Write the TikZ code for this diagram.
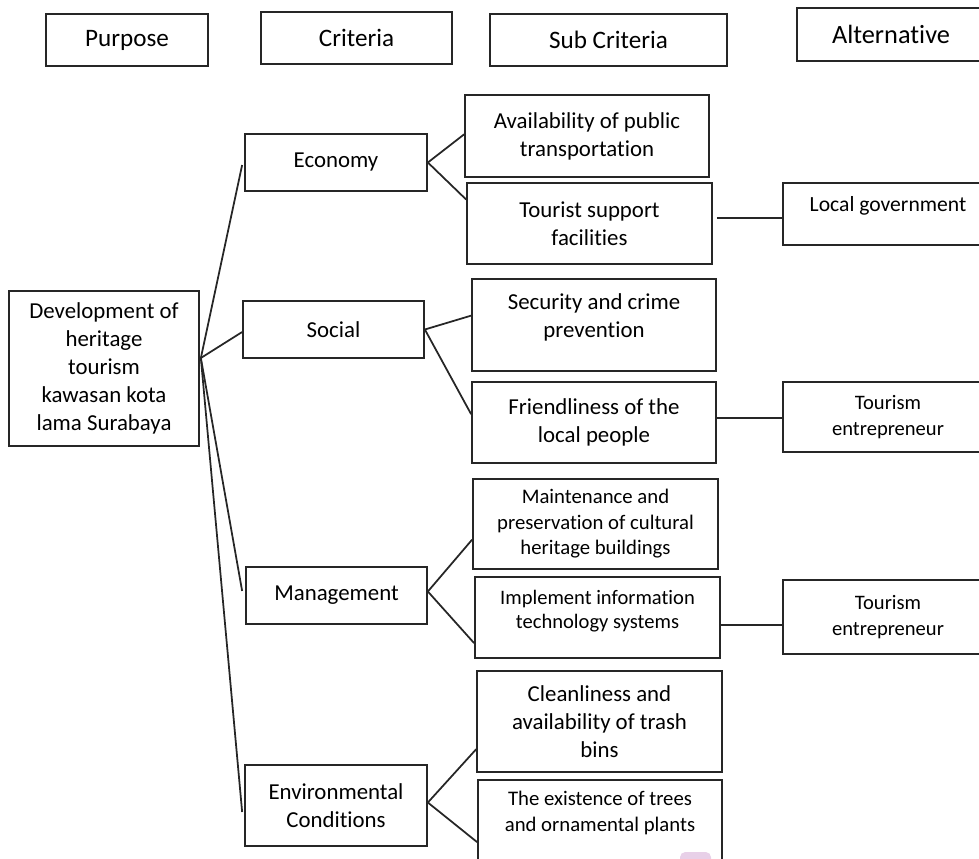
\documentclass[tikz,border=0pt]{standalone}
\usepackage{fontspec}
\setmainfont{Carlito}[Ligatures=NoCommon]
\usepackage{xcolor}
\usepackage{tikz}
\usetikzlibrary{calc}

\definecolor{smudge}{RGB}{232,208,232}

\begin{document}
\begin{tikzpicture}[
    x=0.02cm, y=-0.02cm,
    header/.style={rectangle, draw=black!85, line width=1pt, inner sep=0pt, text centered, font=\fontsize{14.3}{17}\selectfont},
    crit/.style={rectangle, draw=black!85, line width=1pt, inner sep=0pt, align=center, font=\fontsize{13}{15.9}\selectfont},
    subcrit/.style={crit, minimum width=4.9cm},
    small/.style={font=\fontsize{11.8}{14.5}\selectfont},
    alt/.style={crit, minimum width=4.2cm, font=\fontsize{11.7}{14.7}\selectfont},
    link/.style={draw=black!85, line width=1pt}
]
\useasboundingbox (0,0) rectangle (979,858);
\clip (0,0) rectangle (979,858);

% Header row
\node[header, minimum width=3.24cm, minimum height=1.04cm] (purpose) at (127,40) {Purpose};
\node[header, minimum width=3.82cm, minimum height=1.04cm] (criteria) at (356.5,38) {Criteria};
\node[header, minimum width=4.74cm, minimum height=1.04cm] (subcriteria) at (608.5,40) {Sub Criteria};
\node[header, minimum width=3.76cm, minimum height=1.06cm, font=\fontsize{15}{18}\selectfont] (alternative) at (891,34.5) {Alternative};

% Purpose
\node[crit, minimum width=3.8cm, minimum height=3.1cm] (dev) at (104,368.5) {Development of\\heritage\\tourism\\kawasan kota\\lama Surabaya};

% Criteria
\node[crit, minimum width=3.64cm, minimum height=1.14cm] (economy) at (336,162.5) {Economy};
\node[crit, minimum width=3.62cm, minimum height=1.14cm] (social) at (333.5,329.5) {Social};
\node[crit, minimum width=3.62cm, minimum height=1.14cm] (management) at (336.5,595.5) {Management};
\node[crit, minimum width=3.64cm, minimum height=1.62cm] (environment) at (336,805.5) {Environmental\\Conditions};

% Sub criteria
\node[subcrit, minimum width=4.88cm, minimum height=1.64cm] (transport) at (587,136) {Availability of public\\transportation};
\node[subcrit, minimum height=1.62cm] (facilities) at (589.5,223.5) {Tourist support\\facilities};
\node[subcrit, minimum width=4.88cm, minimum height=1.84cm, text depth=0.36cm] (security) at (594,325) {Security and crime\\prevention};
\node[subcrit, minimum width=4.88cm, minimum height=1.62cm] (friendliness) at (594,422.5) {Friendliness of the\\local people};
\node[subcrit, small, minimum height=1.8cm] (maintenance) at (595.5,524) {Maintenance and\\preservation of cultural\\heritage buildings};
\node[subcrit, small, font=\fontsize{11.7}{13.6}\selectfont, minimum height=1.62cm, text depth=0.32cm] (itsystems) at (597.5,617.5) {Implement information\\technology systems};
\node[subcrit, minimum height=2.02cm] (cleanliness) at (599.5,721.5) {Cleanliness and\\availability of trash\\bins};
\node[subcrit, small, minimum width=4.88cm, minimum height=2.6cm, text depth=1.34cm] (trees) at (600,845) {The existence of trees\\and ornamental plants};

% Alternatives
\node[alt, minimum height=1.24cm, font=\fontsize{12.3}{15}\selectfont, text depth=0.41cm] (localgov) at (888,214) {Local government};
\node[alt, minimum height=1.4cm] (entrepreneur1) at (888,417) {Tourism\\entrepreneur};
\node[alt, minimum height=1.48cm] (entrepreneur2) at (888,617) {Tourism\\entrepreneur};

% Purpose to criteria
\coordinate (devhub) at ($(dev.east)+(1,-10.5)$);
\draw[link] (devhub) -- ($(economy.west)+(-2,2.5)$);
\draw[link] (devhub) -- ($(social.west)+(0,2.5)$);
\draw[link] (devhub) -- ($(management.west)+(-3,-4.5)$);
\draw[link] (devhub) -- ($(environment.west)+(-2,6.5)$);

% Criteria to sub criteria
\draw[link] (economy.east) -- ($(transport.north west)!0.48!(transport.south west)$);
\draw[link] (economy.east) -- ($(facilities.north west)!0.21!(facilities.south west)$);
\draw[link] (social.east) -- ($(security.north west)!0.40!(security.south west)$);
\draw[link] (social.east) -- ($(friendliness.north west)!0.40!(friendliness.south west)$);
\coordinate (mgthub) at ($(management.east)+(0,-4)$);
\draw[link] (mgthub) -- ($(maintenance.north west)!0.67!(maintenance.south west)$);
\draw[link] (mgthub) -- ($(itsystems.north west)!0.81!(itsystems.south west)$);
\coordinate (envhub) at ($(environment.east)+(0,-3)$);
\draw[link] (envhub) -- ($(cleanliness.north west)!0.77!(cleanliness.south west)$);
\draw[link] (envhub) -- ($(trees.north west)+(0,63)$);

% Sub criteria to alternatives
\draw[link] ($(facilities.east)+(4,-5.5)$) coordinate (f1) -- (f1 -| localgov.west);
\draw[link] ($(friendliness.east)+(0,-4.5)$) coordinate (f2) -- (f2 -| entrepreneur1.west);
\draw[link] ($(itsystems.east)+(0,7.5)$) coordinate (f3) -- (f3 -| entrepreneur2.west);

% stray mark at the bottom
\fill[smudge, rounded corners=3pt] (680,852) rectangle (711,866);

\end{tikzpicture}
\end{document}
